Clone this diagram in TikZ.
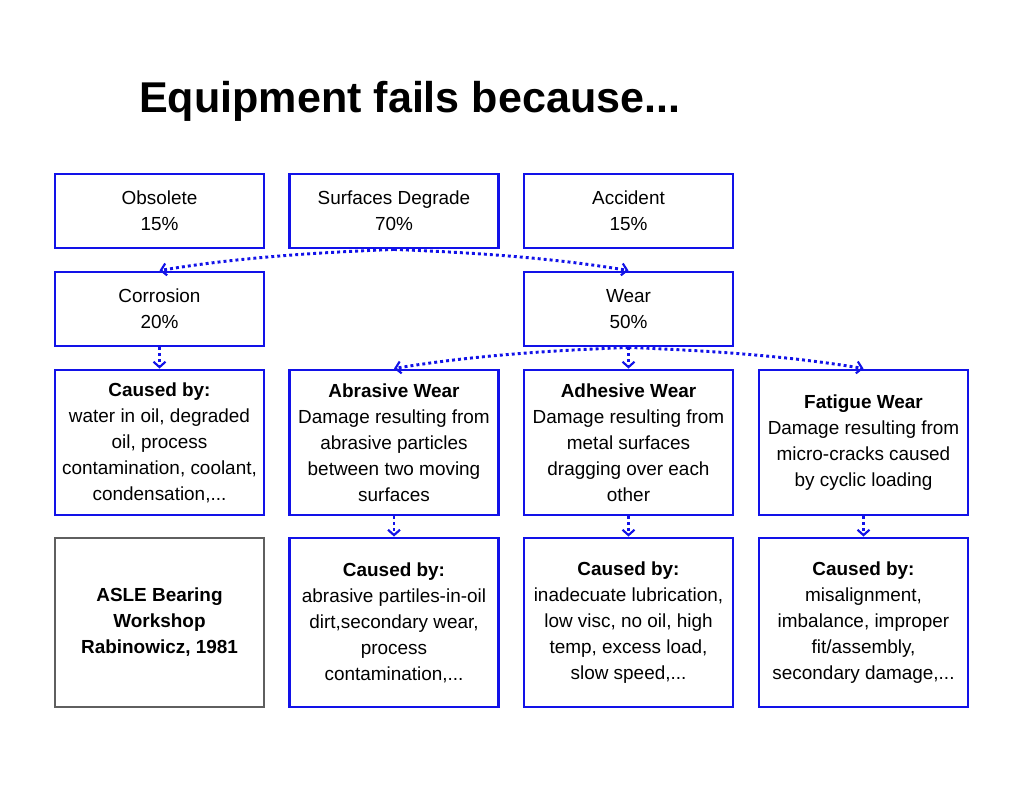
\documentclass[tikz,border=0pt]{standalone}
\usepackage{fontspec}
\setmainfont{Liberation Sans}
\usetikzlibrary{arrows.meta}

\definecolor{boxblue}{RGB}{18,18,232}
\definecolor{boxgray}{RGB}{95,95,95}

\begin{document}
\begin{tikzpicture}[x=0.75pt,y=0.75pt,yscale=-1,xscale=1,
  box/.style={draw=boxblue,line width=2.2pt,align=center,inner sep=0.75pt,
    minimum width=156.75pt,minimum height=55.5pt,
    font=\fontsize{14.2}{19.5}\selectfont},
  tallbox/.style={box,minimum height=108.75pt},
  basebox/.style={box,minimum height=126.75pt},
  flow/.style={draw=boxblue,line width=2.2pt,dash pattern={on 2.2pt off 2.3pt},
    -{Straight Barb[length=4pt,width=9pt,line width=1.6pt]}}]
%set diagram size
\path (0,0) rectangle (1024,788);

% Title
\node [anchor=west,inner sep=0pt,font=\fontsize{32.3}{38}\bfseries] (title) at (139,101) {Equipment fails because...};

% Top row
\node [box] (obsolete) at (159.5,211) {Obsolete\\15\%};
\node [box] (degrade) at (394,211) {Surfaces Degrade\\70\%};
\node [box] (accident) at (628.5,211) {Accident\\15\%};

% Second row
\node [box] (corrosion) at (159.5,309) {Corrosion\\20\%};
\node [box] (wear) at (628.5,309) {Wear\\50\%};

% Third row
\node [tallbox] (corcause) at (159.5,442.5) {\textbf{Caused by:}\\water in oil, degraded\\oil, process\\contamination, coolant,\\condensation,...};
\node [tallbox] (abrasive) at (394,442.5) {\textbf{Abrasive Wear}\\Damage resulting from\\abrasive particles\\between two moving\\surfaces};
\node [tallbox] (adhesive) at (628.5,442.5) {\textbf{Adhesive Wear}\\Damage resulting from\\metal surfaces\\dragging over each\\other};
\node [tallbox] (fatigue) at (863.5,442.5) {\textbf{Fatigue Wear}\\Damage resulting from\\micro-cracks caused\\by cyclic loading};

% Bottom row
\node [basebox,draw=boxgray] (source) at (159.5,622.5) {\textbf{ASLE Bearing}\\\textbf{Workshop}\\\textbf{Rabinowicz, 1981}};
\node [basebox] (abrcause) at (394,622.5) {\textbf{Caused by:}\\abrasive partiles-in-oil\\dirt,secondary wear,\\process\\contamination,...};
\node [basebox] (adhcause) at (628.5,622.5) {\textbf{Caused by:}\\inadecuate lubrication,\\low visc, no oil, high\\temp, excess load,\\slow speed,...};
\node [basebox] (fatcause) at (863.5,622.5) {\textbf{Caused by:}\\misalignment,\\imbalance, improper\\fit/assembly,\\secondary damage,...};

% Arrows
\draw [flow] (degrade.south) .. controls +(-78,3) and +(78,-13) .. (corrosion.north);
\draw [flow] (degrade.south) .. controls +(78,3) and +(-78,-13) .. (wear.north);
\draw [flow] (corrosion.south) -- (corcause.north);
\draw [flow] (wear.south) .. controls +(-78,3) and +(78,-13) .. (abrasive.north);
\draw [flow] (wear.south) -- (adhesive.north);
\draw [flow] (wear.south) .. controls +(78,3) and +(-78,-13) .. (fatigue.north);
\draw [flow] (abrasive.south) -- (abrcause.north);
\draw [flow] (adhesive.south) -- (adhcause.north);
\draw [flow] (fatigue.south) -- (fatcause.north);

\end{tikzpicture}
\end{document}
